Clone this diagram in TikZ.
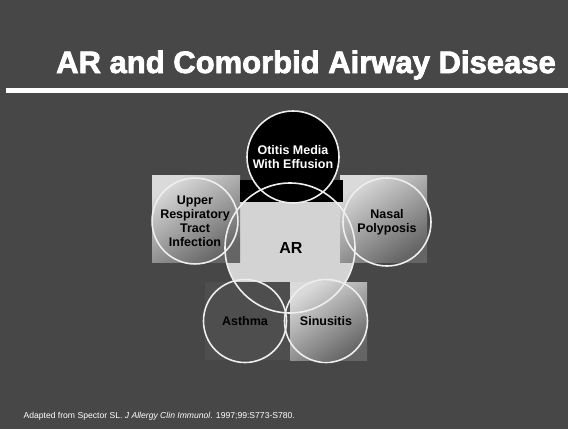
\documentclass[tikz,border=0pt]{standalone}
\usepackage{fontspec}
\setmainfont{Liberation Sans}
\newfontfamily\heavyfont[FakeBold=2.5]{Liberation Sans Bold}
\definecolor{bg}{HTML}{474747}
\definecolor{ring}{HTML}{EEEEEE}
\definecolor{lite}{HTML}{DADADA}
\definecolor{mid}{HTML}{656565}
\definecolor{darksq}{HTML}{4E4E4E}
\begin{document}
\begin{tikzpicture}[x=1pt,y=-1pt,
  sq/.style={rectangle,inner sep=0pt,draw=none},
  gradsq/.style={sq,top color=lite,bottom color=mid,shading angle=35},
  ringc/.style={circle,draw=ring,line width=1.6pt,inner sep=0pt,align=center,font=\bfseries\fontsize{12.5}{14}\selectfont},
  darktext/.style={text=black},
  lighttext/.style={text=white}]
\fill[bg] (0,0) rectangle (568,429);
\useasboundingbox (0,0) rectangle (568,429);
% title
\node[text=white,font=\heavyfont\fontsize{31}{33}\selectfont,anchor=base] (title) at (306,73) {AR and Comorbid Airway Disease};
\fill[white] (6,88) rectangle (568,93);
% AR square and circle fill
\node[sq,minimum width=103pt,minimum height=100pt,top color=lite,bottom color=lite!85!gray,anchor=north west] (arsq) at (240,200) {};
\fill[lite!92!gray] (290,248) circle (65);
% squares
\node[gradsq,minimum width=88pt,minimum height=87pt,anchor=north west] (urtisq) at (152,175) {};
\node[gradsq,minimum width=87pt,minimum height=87pt,anchor=north west] (nasalsq) at (340,175) {};
\node[sq,minimum width=103pt,minimum height=22pt,fill=black,anchor=north west] (otsq) at (240,180) {};
\node[sq,minimum width=85pt,minimum height=78pt,fill=darksq,anchor=north west] (asthsq) at (205,282) {};
\node[gradsq,minimum width=77pt,minimum height=78pt,anchor=north west] (sinsq) at (290,282) {};
% otitis circle
\node[ringc,fill=black,minimum size=92pt,lighttext] (ot) at (293,157) {Otitis Media\\With Effusion};
% other circles
\node[ringc,minimum size=130pt] (ar) at (290,248) {};
\node[darktext,font=\bfseries\fontsize{16}{18}\selectfont] (arlab) at (291,248) {AR};
\node[ringc,minimum size=84pt,darktext] (urti) at (195,221) {Upper\\Respiratory\\Tract\\Infection};
\node[ringc,minimum size=88pt,darktext] (nasal) at (387,222) {Nasal\\Polyposis};
\node[ringc,minimum size=83pt,darktext] (asth) at (245,321) {Asthma};
\node[ringc,minimum size=83pt,darktext] (sin) at (326,321) {Sinusitis};
% footer
\node[text=white,font=\fontsize{8.6}{9}\selectfont,anchor=base west] (foot) at (20,418) {Adapted from Spector SL. \textit{J Allergy Clin Immunol}. 1997;99:S773-S780.};
\end{tikzpicture}
\end{document}
